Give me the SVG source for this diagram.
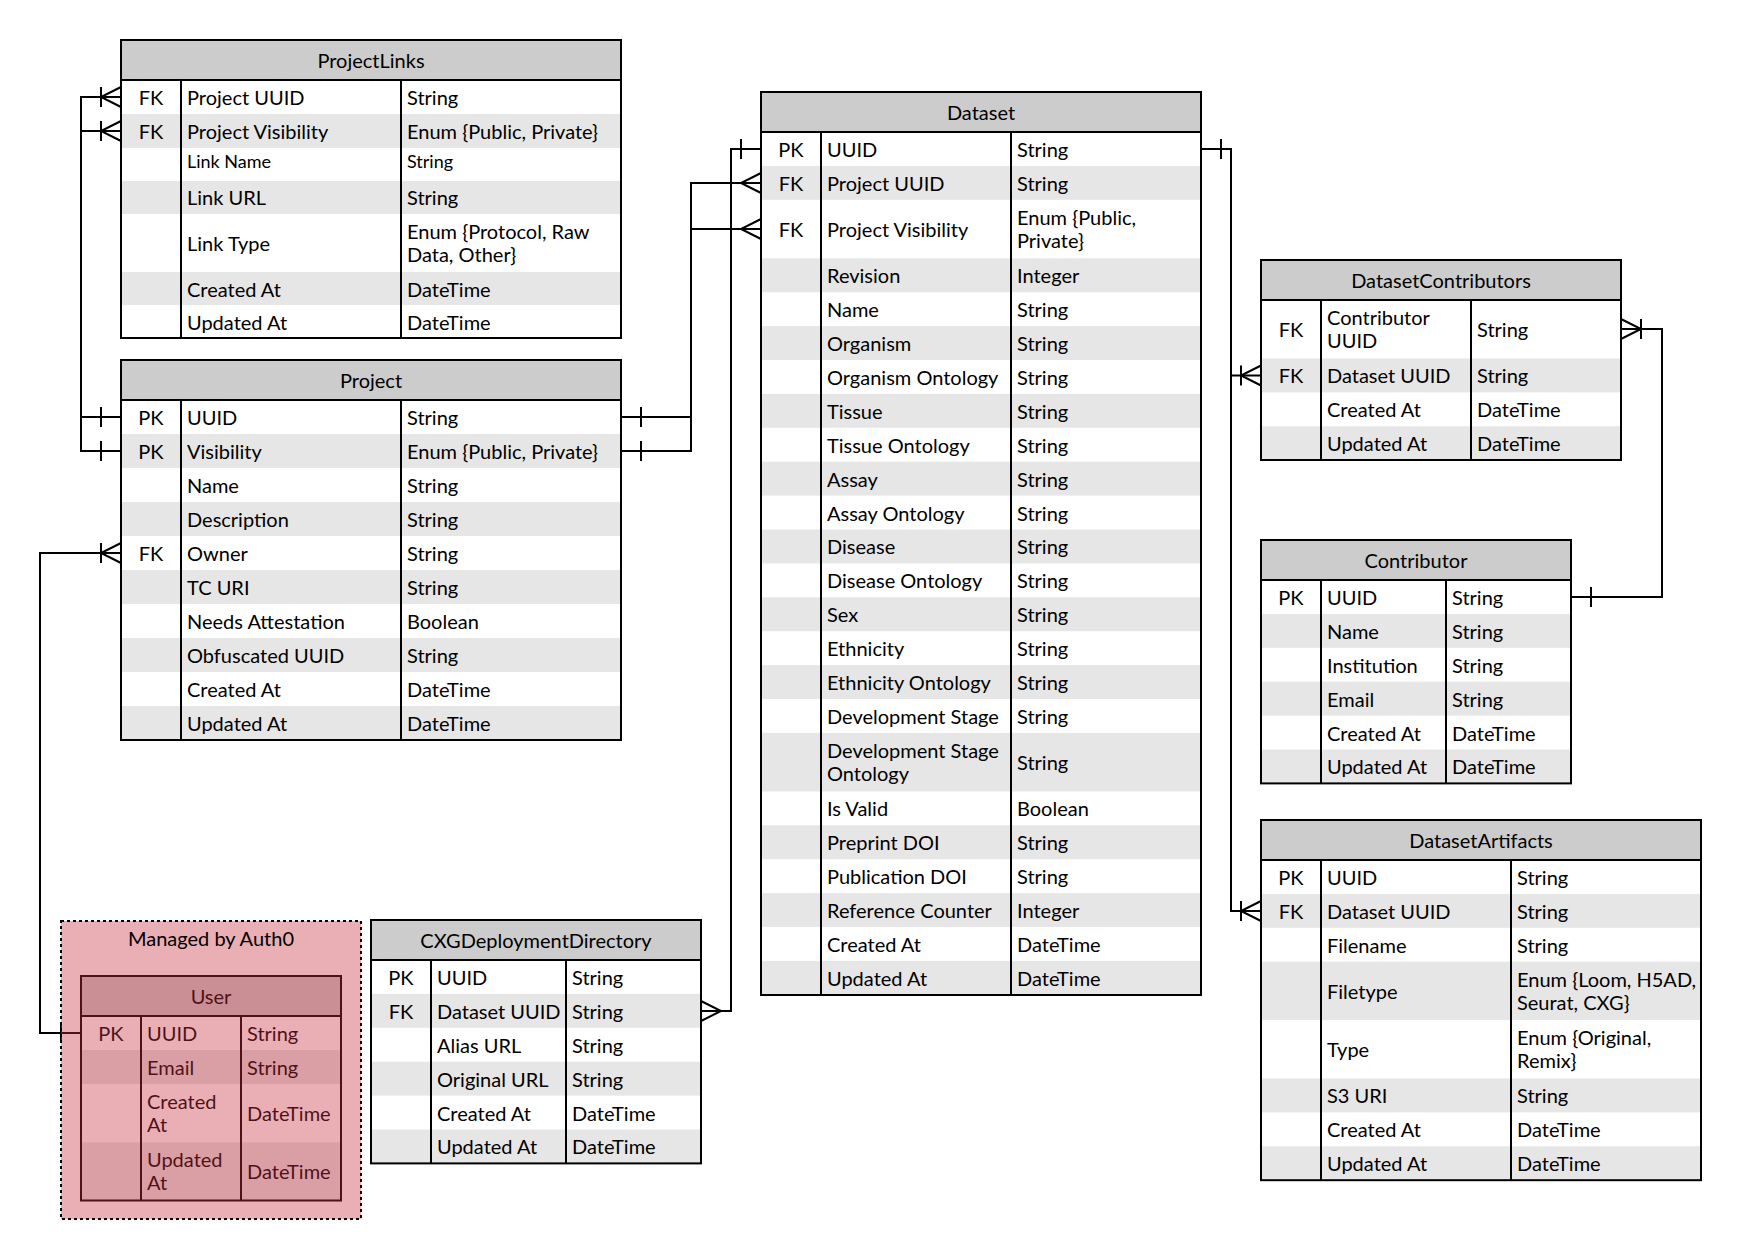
<svg xmlns="http://www.w3.org/2000/svg" width="1741" height="1260" viewBox="0 0 1741 1260">
<style>
.bg{fill:#fff}
.hd{fill:#ccc}
.alt{fill:#e6e6e6}
.ln{fill:none;stroke:#000;stroke-width:2}
.cn{fill:none;stroke:#000;stroke-width:2}
.mk{fill:none;stroke:#000;stroke-width:2}
text{font-family:Lato,"Open Sans","Liberation Sans",sans-serif;font-size:20px;fill:#000}
.c{text-anchor:middle}
.sm{font-size:18px}
</style>
<defs>
<!-- ER end markers; tip sits on the table edge, x axis points into the table -->
<marker id="mOne" markerUnits="userSpaceOnUse" orient="auto-start-reverse" overflow="visible" markerWidth="1" markerHeight="1" refX="0" refY="0">
<path class="mk" d="M-20 -10V10"/>
</marker>
<marker id="mMany" markerUnits="userSpaceOnUse" orient="auto-start-reverse" overflow="visible" markerWidth="1" markerHeight="1" refX="0" refY="0">
<path class="mk" d="M0 -10L-20 0L0 10"/>
</marker>
<marker id="mOneMany" markerUnits="userSpaceOnUse" orient="auto-start-reverse" overflow="visible" markerWidth="1" markerHeight="1" refX="0" refY="0">
<path class="mk" d="M-20 -10V10M0 -10L-20 0L0 10"/>
</marker>
</defs>
<rect width="1741" height="1260" fill="#fff"/>

<!-- relationships -->
<g id="connectors">
<path class="cn" d="M121 97H81V417H121" marker-start="url(#mOneMany)" marker-end="url(#mOne)"/>
<path class="cn" d="M121 131H81V451H121" marker-start="url(#mOneMany)" marker-end="url(#mOne)"/>
<path class="cn" d="M621 417H691V183H761" marker-start="url(#mOne)" marker-end="url(#mMany)"/>
<path class="cn" d="M621 451H691V229H761" marker-start="url(#mOne)" marker-end="url(#mMany)"/>
<path class="cn" d="M761 149H731V1011H701" marker-start="url(#mOne)" marker-end="url(#mMany)"/>
<path class="cn" d="M1201 149H1231V375.5H1261" marker-start="url(#mOne)" marker-end="url(#mOneMany)"/>
<path class="cn" d="M1201 149H1231V911H1261" marker-start="url(#mOne)" marker-end="url(#mOneMany)"/>
<path class="cn" d="M1571 597H1662V329H1621" marker-start="url(#mOne)" marker-end="url(#mOneMany)"/>
<path class="cn" d="M81 1033H40V553H121" marker-start="url(#mOne)" marker-end="url(#mOneMany)"/>
</g>

<!-- ProjectLinks -->
<g id="projectlinks">
<rect class="bg" x="121" y="40" width="500" height="298"/>
<rect class="hd" x="121" y="40" width="500" height="40"/>
<rect class="alt" x="121" y="114" width="500" height="34"/>
<rect class="alt" x="121" y="181" width="500" height="33"/>
<rect class="alt" x="121" y="272" width="500" height="33"/>
<rect class="ln" x="121" y="40" width="500" height="298"/>
<path class="ln" d="M121 80H621M181 80V338M401 80V338"/>
<text class="c" x="371" y="67.7">ProjectLinks</text>
<text class="c" x="151" y="105">FK</text><text x="187" y="105">Project UUID</text><text x="407" y="105">String</text>
<text class="c" x="151" y="139">FK</text><text x="187" y="139">Project Visibility</text><text x="407" y="139">Enum {Public, Private}</text>
<text class="sm" x="187" y="168">Link Name</text><text class="sm" x="407" y="168">String</text>
<text x="187" y="205.4">Link URL</text><text x="407" y="205.4">String</text>
<text x="187" y="251">Link Type</text><text x="407" y="239">Enum {Protocol, Raw</text><text x="407" y="262">Data, Other}</text>
<text x="187" y="296.5">Created At</text><text x="407" y="296.5">DateTime</text>
<text x="187" y="329.5">Updated At</text><text x="407" y="329.5">DateTime</text>
</g>

<!-- Project -->
<g id="project">
<rect class="bg" x="121" y="360" width="500" height="380"/>
<rect class="hd" x="121" y="360" width="500" height="40"/>
<rect class="alt" x="121" y="434" width="500" height="34"/>
<rect class="alt" x="121" y="502" width="500" height="34"/>
<rect class="alt" x="121" y="570" width="500" height="34"/>
<rect class="alt" x="121" y="638" width="500" height="34"/>
<rect class="alt" x="121" y="706" width="500" height="34"/>
<rect class="ln" x="121" y="360" width="500" height="380"/>
<path class="ln" d="M121 400H621M181 400V740M401 400V740"/>
<text class="c" x="371" y="387.7">Project</text>
<text class="c" x="151" y="425">PK</text><text x="187" y="425">UUID</text><text x="407" y="425">String</text>
<text class="c" x="151" y="459">PK</text><text x="187" y="459">Visibility</text><text x="407" y="459">Enum {Public, Private}</text>
<text x="187" y="493">Name</text><text x="407" y="493">String</text>
<text x="187" y="527">Description</text><text x="407" y="527">String</text>
<text class="c" x="151" y="561">FK</text><text x="187" y="561">Owner</text><text x="407" y="561">String</text>
<text x="187" y="595">TC URI</text><text x="407" y="595">String</text>
<text x="187" y="629">Needs Attestation</text><text x="407" y="629">Boolean</text>
<text x="187" y="663">Obfuscated UUID</text><text x="407" y="663">String</text>
<text x="187" y="697">Created At</text><text x="407" y="697">DateTime</text>
<text x="187" y="731">Updated At</text><text x="407" y="731">DateTime</text>
</g>

<!-- Dataset -->
<g id="dataset">
<rect class="bg" x="761" y="92" width="440" height="903"/>
<rect class="hd" x="761" y="92" width="440" height="40"/>
<rect class="alt" x="761" y="165.9" width="440" height="33.9"/>
<rect class="alt" x="761" y="258.3" width="440" height="33.9"/>
<rect class="alt" x="761" y="326.1" width="440" height="33.9"/>
<rect class="alt" x="761" y="393.9" width="440" height="33.9"/>
<rect class="alt" x="761" y="461.7" width="440" height="33.9"/>
<rect class="alt" x="761" y="529.5" width="440" height="33.9"/>
<rect class="alt" x="761" y="597.3" width="440" height="33.9"/>
<rect class="alt" x="761" y="665.1" width="440" height="33.9"/>
<rect class="alt" x="761" y="732.9" width="440" height="58.5"/>
<rect class="alt" x="761" y="825.3" width="440" height="33.9"/>
<rect class="alt" x="761" y="893.1" width="440" height="33.9"/>
<rect class="alt" x="761" y="960.9" width="440" height="34.1"/>
<rect class="ln" x="761" y="92" width="440" height="903"/>
<path class="ln" d="M761 132H1201M821 132V995M1011 132V995"/>
<text class="c" x="981" y="119.7">Dataset</text>
<text class="c" x="791" y="156.9">PK</text><text x="827" y="156.9">UUID</text><text x="1017" y="156.9">String</text>
<text class="c" x="791" y="190.8">FK</text><text x="827" y="190.8">Project UUID</text><text x="1017" y="190.8">String</text>
<text class="c" x="791" y="237">FK</text><text x="827" y="237">Project Visibility</text><text x="1017" y="225">Enum {Public,</text><text x="1017" y="248">Private}</text>
<text x="827" y="283.2">Revision</text><text x="1017" y="283.2">Integer</text>
<text x="827" y="317.1">Name</text><text x="1017" y="317.1">String</text>
<text x="827" y="351">Organism</text><text x="1017" y="351">String</text>
<text x="827" y="384.9">Organism Ontology</text><text x="1017" y="384.9">String</text>
<text x="827" y="418.8">Tissue</text><text x="1017" y="418.8">String</text>
<text x="827" y="452.7">Tissue Ontology</text><text x="1017" y="452.7">String</text>
<text x="827" y="486.6">Assay</text><text x="1017" y="486.6">String</text>
<text x="827" y="520.5">Assay Ontology</text><text x="1017" y="520.5">String</text>
<text x="827" y="554.4">Disease</text><text x="1017" y="554.4">String</text>
<text x="827" y="588.3">Disease Ontology</text><text x="1017" y="588.3">String</text>
<text x="827" y="622.2">Sex</text><text x="1017" y="622.2">String</text>
<text x="827" y="656.1">Ethnicity</text><text x="1017" y="656.1">String</text>
<text x="827" y="690">Ethnicity Ontology</text><text x="1017" y="690">String</text>
<text x="827" y="723.9">Development Stage</text><text x="1017" y="723.9">String</text>
<text x="827" y="758.2">Development Stage</text><text x="827" y="781.2">Ontology</text><text x="1017" y="770.1">String</text>
<text x="827" y="816.3">Is Valid</text><text x="1017" y="816.3">Boolean</text>
<text x="827" y="850.2">Preprint DOI</text><text x="1017" y="850.2">String</text>
<text x="827" y="884.1">Publication DOI</text><text x="1017" y="884.1">String</text>
<text x="827" y="918">Reference Counter</text><text x="1017" y="918">Integer</text>
<text x="827" y="951.9">Created At</text><text x="1017" y="951.9">DateTime</text>
<text x="827" y="985.8">Updated At</text><text x="1017" y="985.8">DateTime</text>
</g>

<!-- DatasetContributors -->
<g id="datasetcontributors">
<rect class="bg" x="1261" y="260" width="360" height="200"/>
<rect class="hd" x="1261" y="260" width="360" height="40"/>
<rect class="alt" x="1261" y="358.5" width="360" height="33.9"/>
<rect class="alt" x="1261" y="426.3" width="360" height="33.7"/>
<rect class="ln" x="1261" y="260" width="360" height="200"/>
<path class="ln" d="M1261 300H1621M1321 300V460M1471 300V460"/>
<text class="c" x="1441" y="287.7">DatasetContributors</text>
<text class="c" x="1291" y="337.2">FK</text><text x="1327" y="325.2">Contributor</text><text x="1327" y="348.2">UUID</text><text x="1477" y="337.2">String</text>
<text class="c" x="1291" y="383.4">FK</text><text x="1327" y="383.4">Dataset UUID</text><text x="1477" y="383.4">String</text>
<text x="1327" y="417.3">Created At</text><text x="1477" y="417.3">DateTime</text>
<text x="1327" y="451.2">Updated At</text><text x="1477" y="451.2">DateTime</text>
</g>

<!-- Contributor -->
<g id="contributor">
<rect class="bg" x="1261" y="540" width="310" height="243.4"/>
<rect class="hd" x="1261" y="540" width="310" height="40"/>
<rect class="alt" x="1261" y="613.9" width="310" height="33.9"/>
<rect class="alt" x="1261" y="681.7" width="310" height="33.9"/>
<rect class="alt" x="1261" y="749.5" width="310" height="33.9"/>
<rect class="ln" x="1261" y="540" width="310" height="243.4"/>
<path class="ln" d="M1261 580H1571M1321 580V783.4M1446 580V783.4"/>
<text class="c" x="1416" y="567.7">Contributor</text>
<text class="c" x="1291" y="604.9">PK</text><text x="1327" y="604.9">UUID</text><text x="1452" y="604.9">String</text>
<text x="1327" y="638.8">Name</text><text x="1452" y="638.8">String</text>
<text x="1327" y="672.7">Institution</text><text x="1452" y="672.7">String</text>
<text x="1327" y="706.6">Email</text><text x="1452" y="706.6">String</text>
<text x="1327" y="740.5">Created At</text><text x="1452" y="740.5">DateTime</text>
<text x="1327" y="774.4">Updated At</text><text x="1452" y="774.4">DateTime</text>
</g>

<!-- DatasetArtifacts -->
<g id="datasetartifacts">
<rect class="bg" x="1261" y="820" width="440" height="360.2"/>
<rect class="hd" x="1261" y="820" width="440" height="40"/>
<rect class="alt" x="1261" y="893.9" width="440" height="33.9"/>
<rect class="alt" x="1261" y="961.7" width="440" height="58.3"/>
<rect class="alt" x="1261" y="1078.5" width="440" height="33.9"/>
<rect class="alt" x="1261" y="1146.3" width="440" height="33.9"/>
<rect class="ln" x="1261" y="820" width="440" height="360.2"/>
<path class="ln" d="M1261 860H1701M1321 860V1180.2M1511 860V1180.2"/>
<text class="c" x="1481" y="847.7">DatasetArtifacts</text>
<text class="c" x="1291" y="884.9">PK</text><text x="1327" y="884.9">UUID</text><text x="1517" y="884.9">String</text>
<text class="c" x="1291" y="918.8">FK</text><text x="1327" y="918.8">Dataset UUID</text><text x="1517" y="918.8">String</text>
<text x="1327" y="952.7">Filename</text><text x="1517" y="952.7">String</text>
<text x="1327" y="998.8">Filetype</text><text x="1517" y="986.8">Enum {Loom, H5AD,</text><text x="1517" y="1009.8">Seurat, CXG}</text>
<text x="1327" y="1057.2">Type</text><text x="1517" y="1045.2">Enum {Original,</text><text x="1517" y="1068.2">Remix}</text>
<text x="1327" y="1103.4">S3 URI</text><text x="1517" y="1103.4">String</text>
<text x="1327" y="1137.3">Created At</text><text x="1517" y="1137.3">DateTime</text>
<text x="1327" y="1171.2">Updated At</text><text x="1517" y="1171.2">DateTime</text>
</g>

<!-- CXGDeploymentDirectory -->
<g id="cxgdeploymentdirectory">
<rect class="bg" x="371" y="920" width="330" height="243.4"/>
<rect class="hd" x="371" y="920" width="330" height="40"/>
<rect class="alt" x="371" y="993.9" width="330" height="33.9"/>
<rect class="alt" x="371" y="1061.7" width="330" height="33.9"/>
<rect class="alt" x="371" y="1129.5" width="330" height="33.9"/>
<rect class="ln" x="371" y="920" width="330" height="243.4"/>
<path class="ln" d="M371 960H701M431 960V1163.4M566 960V1163.4"/>
<text class="c" x="536" y="947.7">CXGDeploymentDirectory</text>
<text class="c" x="401" y="984.9">PK</text><text x="437" y="984.9">UUID</text><text x="572" y="984.9">String</text>
<text class="c" x="401" y="1018.8">FK</text><text x="437" y="1018.8">Dataset UUID</text><text x="572" y="1018.8">String</text>
<text x="437" y="1052.7">Alias URL</text><text x="572" y="1052.7">String</text>
<text x="437" y="1086.6">Original URL</text><text x="572" y="1086.6">String</text>
<text x="437" y="1120.5">Created At</text><text x="572" y="1120.5">DateTime</text>
<text x="437" y="1154.4">Updated At</text><text x="572" y="1154.4">DateTime</text>
</g>

<!-- Auth0 container with the User table; the translucent red fill sits over the table -->
<g id="auth0">
<g id="user">
<rect class="bg" x="81" y="976" width="260" height="224.5"/>
<rect class="hd" x="81" y="976" width="260" height="40"/>
<rect class="alt" x="81" y="1050" width="260" height="34"/>
<rect class="alt" x="81" y="1142.3" width="260" height="58.2"/>
<rect class="ln" x="81" y="976" width="260" height="224.5"/>
<path class="ln" d="M81 1016H341M141 1016V1200.5M241 1016V1200.5"/>
<text class="c" x="211" y="1003.7">User</text>
<text class="c" x="111" y="1041">PK</text><text x="147" y="1041">UUID</text><text x="247" y="1041">String</text>
<text x="147" y="1075">Email</text><text x="247" y="1075">String</text>
<text x="147" y="1109.1">Created</text><text x="147" y="1132.1">At</text><text x="247" y="1121.1">DateTime</text>
<text x="147" y="1167.4">Updated</text><text x="147" y="1190.4">At</text><text x="247" y="1179.4">DateTime</text>
</g>
<rect x="61" y="921" width="300" height="298" fill="rgb(200,46,62)" fill-opacity="0.385"/>
<rect x="61" y="921" width="300" height="298" fill="none" stroke="#000" stroke-width="2" stroke-dasharray="3 3"/>
<text class="c" x="211" y="946">Managed by Auth0</text>
</g>
</svg>
